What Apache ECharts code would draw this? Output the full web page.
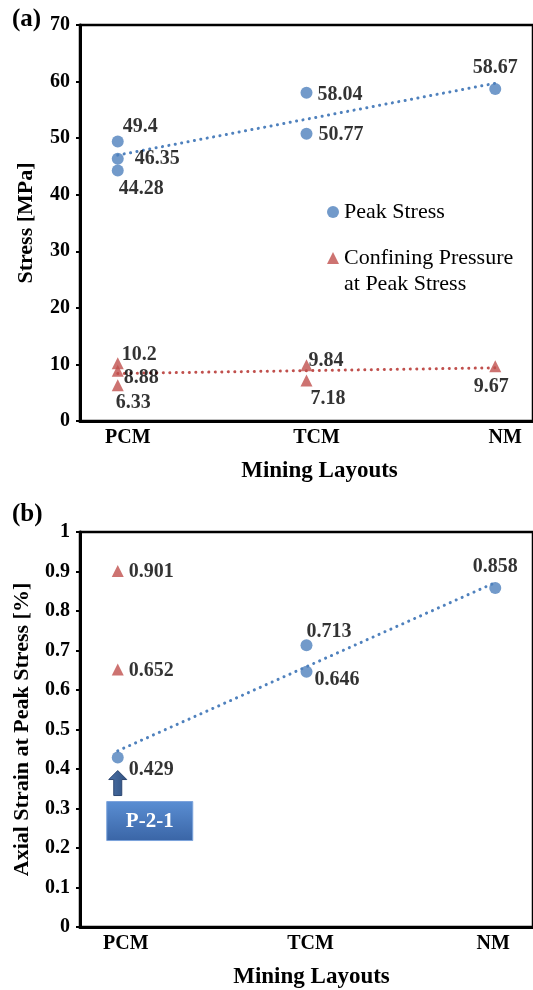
<!DOCTYPE html>
<html>
<head>
<meta charset="utf-8">
<script src="https://cdn.jsdelivr.net/npm/echarts@6/dist/echarts.min.js"></script>
<style>
html, body { margin: 0; padding: 0; background: #fff; }
#main { width: 533px; height: 990px; }
</style>
</head>
<body>
<div id="main"></div>
<script>
var layouts = ['PCM', 'TCM', 'NM'];
var peakStress = [[49.4, 46.35, 44.28], [58.04, 50.77], [58.67]];
var confiningPressure = [[10.2, 8.88, 6.33], [9.84, 7.18], [9.67]];
var strainPeak = [[0.429], [0.713, 0.646], [0.858]];
var strainConfining = [[0.901, 0.652], [], []];
// dotted trend lines: value at PCM and at NM
var trendStress = [47.0, 59.7];
var trendConfining = [8.4, 9.4];
var trendStrain = [0.446, 0.872];

// label placement per point: [position, dx, dy]
var peakStressLbl = [[['right', -6, -15], ['right', 6, 0], ['right', -10, 18]], [['right', 0, 2], ['right', 1, 1]], [['top', 0, 0]]];
var confiningLbl = [[['right', -7, -8], ['right', -5, 7], ['right', -13, 18]], [['right', -9, -5], ['right', -7, 18]], [['bottom', -4, 0]]];
var strainPeakLbl = [[['right', 0, 12]], [['right', -11, -14], ['right', -3, 8]], [['top', 0, 0]]];
var strainConfLbl = [[['right', 0, 1], ['right', 0, 1]], [], []];

var FONT = 'Liberation Serif';
var BLUE = '#4f81bd';
var RED = '#c0504d';

function pts(groups, lbls) {
    var out = [];
    groups.forEach(function (g, i) {
        g.forEach(function (v, j) {
            var l = lbls[i][j];
            out.push({value: [i + 1, v], label: {position: l[0], offset: [l[1], l[2]]}});
        });
    });
    return out;
}

function trend(vals) {
    return [[1, vals[0]], [3, vals[1]]];
}

var dataLabel = {
    show: true,
    color: '#000',
    fontFamily: FONT,
    fontWeight: 'bold',
    fontSize: 20,
    distance: 5,
    formatter: function (p) { return p.value[1]; }
};

// category labels sit a little off the point columns in the original
function shiftStyle(s) {
    return {
        color: '#000', fontFamily: FONT, fontWeight: 'bold', fontSize: 20,
        padding: s >= 0 ? [0, 0, 0, 2 * s] : [0, -2 * s, 0, 0]
    };
}

function xAxisOf(idx, nameShift, labelShifts) {
    var rich = {};
    labelShifts.forEach(function (s, i) { rich['s' + i] = shiftStyle(s); });
    return {
        type: 'value',
        gridIndex: idx,
        min: 0.8,
        max: 3.2,
        splitLine: {show: false},
        axisTick: {show: false},
        axisLine: {lineStyle: {color: '#000', width: 3}},
        axisLabel: {
            customValues: [1, 2, 3],
            formatter: function (v) {
                var i = Math.round(v) - 1;
                return '{s' + i + '|' + layouts[i] + '}';
            },
            rich: rich,
            color: '#000', fontFamily: FONT, fontWeight: 'bold', fontSize: 20, margin: 7
        },
        name: 'Mining Layouts',
        nameLocation: 'middle',
        nameGap: 39,
        nameTextStyle: {
            color: '#000', fontFamily: FONT, fontWeight: 'bold', fontSize: 23,
            padding: [0, 0, 0, 2 * nameShift]
        }
    };
}

function yAxisOf(idx, max, interval, name, gap) {
    return {
        type: 'value',
        gridIndex: idx,
        min: 0,
        max: max,
        interval: interval,
        splitLine: {show: false},
        axisLine: {show: true, lineStyle: {color: '#000', width: 3}},
        axisTick: {show: true, length: 4, lineStyle: {color: '#000', width: 2}},
        axisLabel: {color: '#000', fontFamily: FONT, fontWeight: 'bold', fontSize: 20, margin: 10},
        name: name,
        nameLocation: 'middle',
        nameGap: gap,
        nameTextStyle: {color: '#000', fontFamily: FONT, fontWeight: 'bold', fontSize: 22}
    };
}

var dotted = function (color) {
    return {color: color, width: 3, type: [0.1, 6.4], cap: 'round'};
};

var myChart = echarts.init(document.getElementById('main'));

var option = {
    animation: false,
    backgroundColor: '#fff',
    textStyle: {fontFamily: FONT},
    grid: [
        {left: 80, right: -3, top: 25, height: 396, show: true, borderColor: '#000', borderWidth: 2.5},
        {left: 80, right: -3, top: 532, height: 395, show: true, borderColor: '#000', borderWidth: 2.5}
    ],
    xAxis: [xAxisOf(0, 13, [10, 10, 10]), xAxisOf(1, 5, [8, 4, -2])],
    yAxis: [
        yAxisOf(0, 70, 10, 'Stress [MPa]', 43),
        yAxisOf(1, 1, 0.1, 'Axial Strain at Peak Stress [%]', 47)
    ],
    legend: [
        {
            data: ['Peak Stress'],
            left: 327, top: 199, orient: 'vertical', padding: 0,
            itemWidth: 12, itemHeight: 12,
            textStyle: {color: '#000', fontFamily: FONT, fontSize: 22, lineHeight: 26}
        },
        {
            data: ['Confining Pressure at Peak Stress'],
            left: 327, top: 219, orient: 'vertical', padding: 0,
            itemWidth: 12, itemHeight: 12,
            formatter: function () { return '\nConfining Pressure\nat Peak Stress'; },
            textStyle: {color: '#000', fontFamily: FONT, fontSize: 22, lineHeight: 26}
        }
    ],
    series: [
        {
            type: 'line', xAxisIndex: 0, yAxisIndex: 0, silent: true, showSymbol: false, z: 1,
            data: trend(trendStress), lineStyle: dotted(BLUE)
        },
        {
            type: 'line', xAxisIndex: 0, yAxisIndex: 0, silent: true, showSymbol: false, z: 1,
            data: trend(trendConfining), lineStyle: dotted(RED)
        },
        {
            name: 'Peak Stress', type: 'scatter', xAxisIndex: 0, yAxisIndex: 0, z: 3,
            symbol: 'circle', symbolSize: 12, itemStyle: {color: BLUE},
            label: dataLabel, data: pts(peakStress, peakStressLbl)
        },
        {
            name: 'Confining Pressure at Peak Stress', type: 'scatter', xAxisIndex: 0, yAxisIndex: 0, z: 3,
            symbol: 'triangle', symbolSize: 12, itemStyle: {color: RED},
            label: dataLabel, data: pts(confiningPressure, confiningLbl)
        },
        {
            type: 'line', xAxisIndex: 1, yAxisIndex: 1, silent: true, showSymbol: false, z: 1,
            data: trend(trendStrain), lineStyle: dotted(BLUE)
        },
        {
            name: 'Strain at Peak Stress', type: 'scatter', xAxisIndex: 1, yAxisIndex: 1, z: 3,
            symbol: 'circle', symbolSize: 12, itemStyle: {color: BLUE},
            label: dataLabel, data: pts(strainPeak, strainPeakLbl)
        },
        {
            name: 'Strain (confining)', type: 'scatter', xAxisIndex: 1, yAxisIndex: 1, z: 3,
            symbol: 'triangle', symbolSize: 12, itemStyle: {color: RED},
            label: dataLabel, data: pts(strainConfining, strainConfLbl)
        }
    ]
};
myChart.setOption(option);

// panel letters and the P-2-1 callout under the first PCM strain point
var p = myChart.convertToPixel({xAxisIndex: 1, yAxisIndex: 1}, [1, strainPeak[0][0]]);
var px = p[0], py = p[1];
myChart.setOption({
    graphic: [
        {type: 'text', left: 12, top: 7, style: {text: '(a)', fill: '#000', font: 'bold 25px "Liberation Serif"'}},
        {type: 'text', left: 12, top: 502, style: {text: '(b)', fill: '#000', font: 'bold 25px "Liberation Serif"'}},
        {
            type: 'polygon', z: 10,
            shape: {points: [[px, py + 13], [px + 9, py + 22], [px + 4, py + 22], [px + 4, py + 38],
                [px - 4, py + 38], [px - 4, py + 22], [px - 9, py + 22]]},
            style: {
                fill: new echarts.graphic.LinearGradient(0, 0, 1, 0, [
                    {offset: 0, color: '#4c72a8'}, {offset: 1, color: '#2f4f7e'}
                ]),
                stroke: '#2c4670', lineWidth: 1
            }
        },
        {
            type: 'rect', z: 10,
            shape: {x: px - 11, y: py + 44, width: 86, height: 39},
            style: {
                fill: new echarts.graphic.LinearGradient(0, 0, 0, 1, [
                    {offset: 0, color: '#5a8ed3'}, {offset: 1, color: '#3a65a6'}
                ]),
                stroke: '#7ba3db', lineWidth: 1
            }
        },
        {
            type: 'text', z: 11, x: px + 32, y: py + 64,
            style: {text: 'P-2-1', fill: '#fff', font: 'bold 21px "Liberation Serif"', align: 'center', verticalAlign: 'middle'}
        }
    ]
});
</script>
</body>
</html>
